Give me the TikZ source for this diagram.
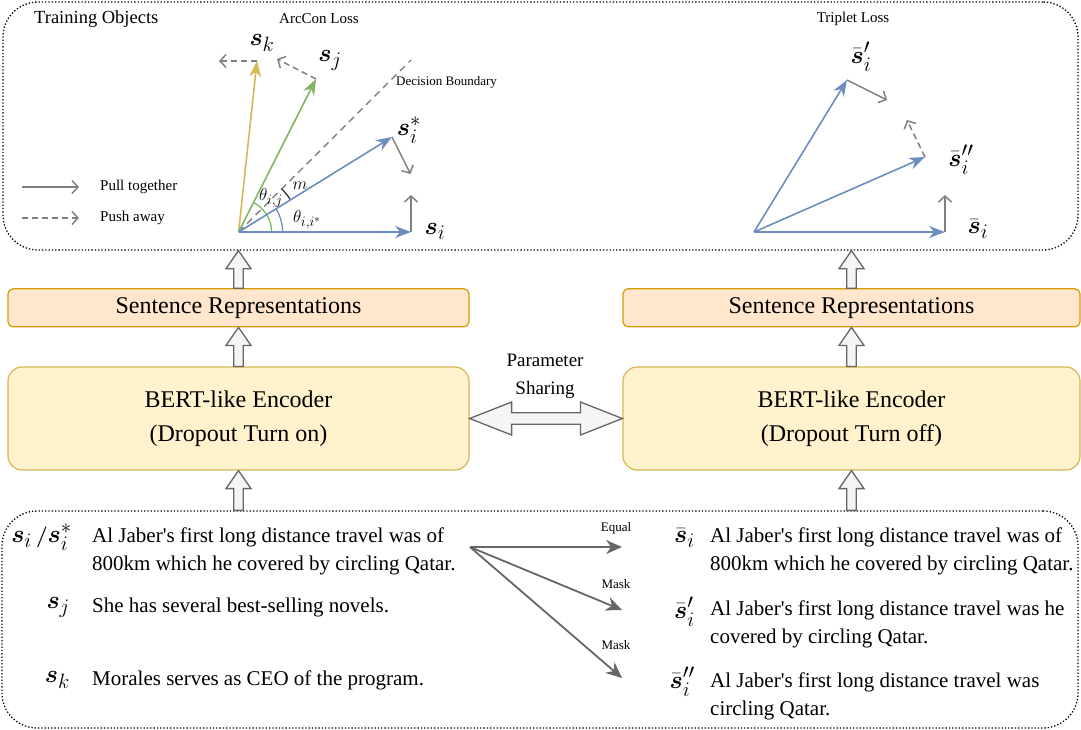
\documentclass[tikz,border=0pt]{standalone}
\usepackage{amsmath}
\usepackage{fontspec}
\setmainfont{Liberation Serif}[Ligatures=TeXOff]
\usetikzlibrary{arrows.meta,angles,calc,positioning}
\DeclareMathSizes{26}{26}{20}{15}
\DeclareMathSizes{18}{18}{14}{11}

\definecolor{vblue}{HTML}{6C8EBF}
\definecolor{vgreen}{HTML}{82B366}
\definecolor{vyellow}{HTML}{D6B656}
\definecolor{pullgray}{HTML}{808080}
\definecolor{arrgray}{HTML}{666666}
\definecolor{hollowfill}{HTML}{F5F5F5}
\definecolor{repfill}{HTML}{FFE6CC}
\definecolor{repdraw}{HTML}{D79B00}
\definecolor{encfill}{HTML}{FFF2CC}
\definecolor{encdraw}{HTML}{D6B656}

% hollow block arrow pointing up, from #1 to #2
\newcommand{\hollowup}[2]{%
  \draw[hollow] let \p1=(#1), \p2=(#2) in
    (\x1-4.7pt,\y1) -- (\x1-4.7pt,\y2-18pt) -- (\x1-12.5pt,\y2-18pt) -- (\x1,\y2)
    -- (\x1+12.5pt,\y2-18pt) -- (\x1+4.7pt,\y2-18pt) -- (\x1+4.7pt,\y1) -- cycle;}

\begin{document}
\begin{tikzpicture}[x=1pt,y=1pt,line join=round]
\tikzstyle{dotbox}=[draw=black,dotted,line width=1.3pt,rounded corners=35pt,inner sep=0pt]
\tikzstyle{enc}=[draw=encdraw,fill=encfill,line width=1.2pt,rounded corners=14pt,minimum width=461pt,minimum height=103pt,align=center,font=\fontsize{24}{34}\selectfont]
\tikzstyle{rep}=[draw=repdraw,fill=repfill,line width=1.2pt,rounded corners=5pt,minimum width=461pt,minimum height=38pt,inner sep=0pt,font=\fontsize{24}{28}\selectfont]
\tikzstyle{hollow}=[draw=arrgray,fill=hollowfill,line width=1.3pt,line join=miter]
\tikzstyle{vec}=[-{Stealth[length=16pt,width=12pt]},line width=1.6pt]
\tikzstyle{pull}=[-{Straight Barb[length=6pt,width=13pt]},draw=pullgray,line width=1.5pt]
\tikzstyle{push}=[pull,dash pattern=on 6pt off 4pt]
\tikzstyle{fan}=[-{Stealth[length=16pt,width=14pt]},draw=arrgray,line width=1.8pt]
\tikzstyle{sent}=[anchor=west,align=left,inner sep=0pt,font=\fontsize{21}{28}\selectfont]
\tikzstyle{lab}=[inner sep=0pt,font=\fontsize{26}{30}\selectfont]
\tikzstyle{small}=[inner sep=0pt,font=\fontsize{13}{15}\selectfont]
\tikzstyle{legend}=[anchor=west,inner sep=0pt,font=\fontsize{15}{17}\selectfont]
\tikzstyle{greek}=[inner sep=0pt,font=\fontsize{18}{20}\selectfont]
\useasboundingbox (0,0) rectangle (1081,-729);

% frames
\node[dotbox,minimum width=1075pt,minimum height=248pt] (objs) at (540.5,-126) {};
\node[dotbox,minimum width=1076pt,minimum height=217pt] (sents) at (540,-619.5) {};

% encoders and representations
\node[enc] (encL) at (238.5,-418.5) {BERT-like Encoder\\(Dropout Turn on)};
\node[enc,minimum width=457pt] (encR) at (851.5,-418.5) {BERT-like Encoder\\(Dropout Turn off)};
\node[rep] (repL) [above=39pt of encL] {Sentence Representations};
\node[rep,minimum width=457pt] (repR) [above=39pt of encR] {Sentence Representations};
\node[align=center,font=\fontsize{19}{28}\selectfont] (param) at (545,-376) {Parameter\\Sharing};

\hollowup{encL.north}{repL.south}
\hollowup{repL.north}{objs.south -| repL.north}
\hollowup{sents.north -| encL.south}{encL.south}
\hollowup{encR.north}{repR.south}
\hollowup{repR.north}{objs.south -| repR.north}
\hollowup{sents.north -| encR.south}{encR.south}

% parameter sharing
\draw[hollow] let \p1=(encL.east), \p2=(encR.west) in
  (\x1,\y1) -- (\x1+42pt,\y1+16.5pt) -- (\x1+42pt,\y1+5.7pt) -- (\x2-42pt,\y1+5.7pt)
  -- (\x2-42pt,\y1+16.5pt) -- (\x2,\y1) -- (\x2-42pt,\y1-16.5pt) -- (\x2-42pt,\y1-5.7pt)
  -- (\x1+42pt,\y1-5.7pt) -- (\x1+42pt,\y1-16.5pt) -- cycle;

% training objects
\node[legend,font=\fontsize{18.5}{20}\selectfont] (title) at (34,-19) {Training Objects};
\node[font=\fontsize{15}{17}\selectfont,inner sep=0pt] (arcT) at (319,-19) {ArcCon Loss};
\node[font=\fontsize{15}{17}\selectfont,inner sep=0pt] (triT) at (853,-19) {Triplet Loss};

\coordinate (lg1) at (22,-187);
\coordinate (lg1e) at (79,-187);
\coordinate (lg2) at (22,-218);
\coordinate (lg2e) at (79,-218);
\draw[pull] (lg1) -- (lg1e);
\draw[push] (lg2) -- (lg2e);
\node[legend] (pullT) at (100,-187) {Pull together};
\node[legend] (pushT) at (100,-218) {Push away};

% ArcCon loss
\coordinate (O) at (238.6,-232);
\coordinate (Si) at (411,-232);
\coordinate (Ss) at (392,-137);
\coordinate (Sj) at (316,-79);
\coordinate (Sk) at (257,-61);
\coordinate (DB) at (411,-60);
\coordinate (Skp) at (219,-61);
\coordinate (Sjp) at (277,-59);
\coordinate (Ssp) at (410.5,-174);
\coordinate (Sip) at (411,-195);

\draw[pullgray,line width=1.4pt,dash pattern=on 7pt off 5pt] (O) -- (DB);
\node[small,anchor=west] (dbT) at (396,-82) {Decision Boundary};
\pic[draw=vgreen,line width=1.3pt,angle radius=33pt] {angle=Si--O--Sj};
\pic[draw=vblue,line width=1.3pt,angle radius=44pt] {angle=Si--O--Ss};
\pic[draw=black!80,line width=1.3pt,angle radius=61pt] {angle=Ss--O--DB};
\draw[vec,vyellow] (O) -- (Sk);
\draw[vec,vgreen] (O) -- (Sj);
\draw[vec,vblue] (O) -- (Ss);
\draw[vec,vblue] (O) -- (Si);
\draw[push] (Sk) -- (Skp);
\draw[push] (Sj) -- (Sjp);
\draw[pull] (Ss) -- (Ssp);
\draw[pull] (Si) -- (Sip);

\node[lab] (skL) at (262,-43) {$\boldsymbol{s}_k$};
\node[lab] (sjL) at (330,-60) {$\boldsymbol{s}_j$};
\node[lab] (ssL) at (409,-130) {$\boldsymbol{s}_i^*$};
\node[lab] (siL) at (435,-231) {$\boldsymbol{s}_i$};
\node[greek] (thj) at (271,-198) {$\theta_{i,j}$};
\node[greek] (thi) at (307,-220) {$\theta_{i,i^*}$};
\node[greek] (mL) at (300,-186) {$m$};

% triplet loss
\coordinate (T) at (754,-232);
\coordinate (Ti) at (945,-232);
\coordinate (Tp) at (847,-80);
\coordinate (Tpp) at (925,-157);
\coordinate (Tpq) at (887,-100);
\coordinate (Tppq) at (907,-120);
\coordinate (Tiq) at (945,-195);

\draw[vec,vblue] (T) -- (Tp);
\draw[vec,vblue] (T) -- (Tpp);
\draw[vec,vblue] (T) -- (Ti);
\draw[pull] (Tp) -- (Tpq);
\draw[push] (Tpp) -- (Tppq);
\draw[pull] (Ti) -- (Tiq);

\node[lab] (tpL) at (861,-57) {$\bar{\boldsymbol{s}}'_i$};
\node[lab] (tppL) at (961,-160) {$\bar{\boldsymbol{s}}''_i$};
\node[lab] (tiL) at (978,-229) {$\bar{\boldsymbol{s}}_i$};

% sentences
\node[sent] (ti) at (92,-551) {Al Jaber's first long distance travel was of\\800km which he covered by circling Qatar.};
\node[sent] (tj) at (92,-607) {She has several best-selling novels.};
\node[sent] (tk) at (92,-680) {Morales serves as CEO of the program.};
\node[lab,anchor=east] (li) at (72,-537) {$\boldsymbol{s}_i\,{\scriptstyle\boldsymbol{/}}\boldsymbol{s}_i^*$};
\node[lab,anchor=east] (lj) at (70,-607) {$\boldsymbol{s}_j$};
\node[lab,anchor=east] (lk) at (70,-680) {$\boldsymbol{s}_k$};

\coordinate (fo) at (470,-547);
\coordinate (f1) at (622,-547);
\coordinate (f2) at (622,-610);
\coordinate (f3) at (622,-678);
\draw[fan] (fo) -- (f1);
\draw[fan] (fo) -- (f2);
\draw[fan] (fo) -- (f3);
\node[small] (eqT) at (616,-528) {Equal};
\node[small] (mk1) at (616,-584) {Mask};
\node[small] (mk2) at (616,-645) {Mask};

\node[sent] (ri) at (710,-551) {Al Jaber's first long distance travel was of\\800km which he covered by circling Qatar.};
\node[sent] (rj) at (710,-624) {Al Jaber's first long distance travel was he\\covered by circling Qatar.};
\node[sent] (rk) at (710,-696) {Al Jaber's first long distance travel was\\circling Qatar.};
\node[lab,anchor=east] (rli) at (695,-538) {$\bar{\boldsymbol{s}}_i$};
\node[lab,anchor=east] (rlj) at (695,-612) {$\bar{\boldsymbol{s}}'_i$};
\node[lab,anchor=east] (rlk) at (695,-682) {$\bar{\boldsymbol{s}}''_i$};
\end{tikzpicture}
\end{document}
